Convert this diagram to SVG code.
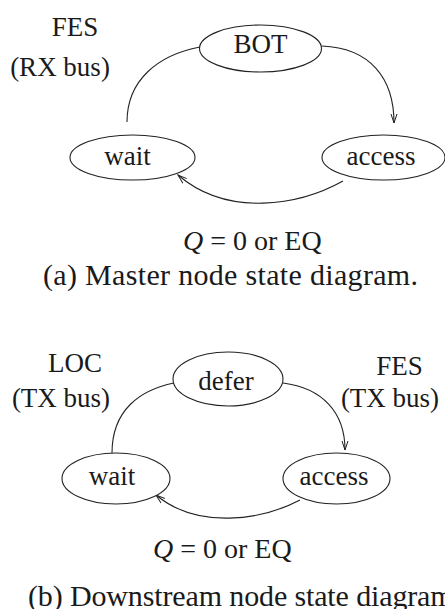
<svg xmlns="http://www.w3.org/2000/svg" width="445" height="609" viewBox="0 0 445 609">
<defs>
<style>
.n{fill:none;stroke:#222;stroke-width:1.1}
.e{fill:#fff;stroke:#222;stroke-width:1.1}
.t{font-family:'Liberation Serif','Tinos','DejaVu Serif',serif;font-size:27px;fill:#1a1a1a;text-anchor:middle}
.q{font-family:'Liberation Serif','Tinos','DejaVu Serif',serif;font-size:28px;fill:#1a1a1a}
.c{font-family:'Liberation Serif','Tinos','DejaVu Serif',serif;font-size:30px;fill:#1a1a1a}
</style>
<marker id="arr" markerWidth="12" markerHeight="10" refX="0" refY="0" viewBox="-10 -5 12 10" orient="auto" markerUnits="userSpaceOnUse">
<path d="M-9,-3 L0,0 L-9,3" fill="none" stroke="#222" stroke-width="1"/>
</marker>
</defs>
<g id="connectors">
<path class="n" d="M322,46 C370,48 394,78 394,123" marker-end="url(#arr)"/>
<path class="n" d="M127,122 C127,80 158,55 200,47"/>
<path class="n" d="M343,181 C300,205 228,218 178,175" marker-end="url(#arr)"/>
<path class="n" d="M283,383 C322,388 345,412 345,450" marker-end="url(#arr)"/>
<path class="n" d="M112,453 C112,410 140,390 174,383"/>
<path class="n" d="M300,500 C262,520 198,530 156,495" marker-end="url(#arr)"/>
</g>
<g id="a-BOT"><ellipse class="e" cx="260.5" cy="48.5" rx="61" ry="23.5"/><text class="t" x="260.5" y="53">BOT</text></g>
<g id="a-wait"><ellipse class="e" cx="132.5" cy="157.5" rx="62.5" ry="22.5"/><text class="t" x="127.5" y="165">wait</text></g>
<g id="a-access"><ellipse class="e" cx="383.5" cy="157.5" rx="61.5" ry="22.5"/><text class="t" x="381" y="165">access</text></g>
<g id="a-labels">
<text class="t" x="75" y="36">FES</text>
<text class="t" x="60" y="76">(RX bus)</text>
<text class="q" x="183" y="250"><tspan font-style="italic">Q</tspan> = 0 or EQ</text>
<text class="c" x="43" y="285" textLength="375">(a) Master node state diagram.</text>
</g>
<g id="b-defer"><ellipse class="e" cx="228" cy="379" rx="55" ry="27"/><text class="t" x="226" y="390">defer</text></g>
<g id="b-wait"><ellipse class="e" cx="116" cy="478.5" rx="54" ry="25.5"/><text class="t" x="112" y="485">wait</text></g>
<g id="b-access"><ellipse class="e" cx="336.5" cy="478.5" rx="53.5" ry="25.5"/><text class="t" x="334" y="485">access</text></g>
<g id="b-labels">
<text class="t" x="75" y="372">LOC</text>
<text class="t" x="61" y="407">(TX bus)</text>
<text class="t" x="399.5" y="375">FES</text>
<text class="t" x="390" y="407">(TX bus)</text>
<text class="q" x="153" y="558"><tspan font-style="italic">Q</tspan> = 0 or EQ</text>
<text class="c" x="28" y="606" textLength="433">(b) Downstream node state diagram.</text>
</g>
</svg>
